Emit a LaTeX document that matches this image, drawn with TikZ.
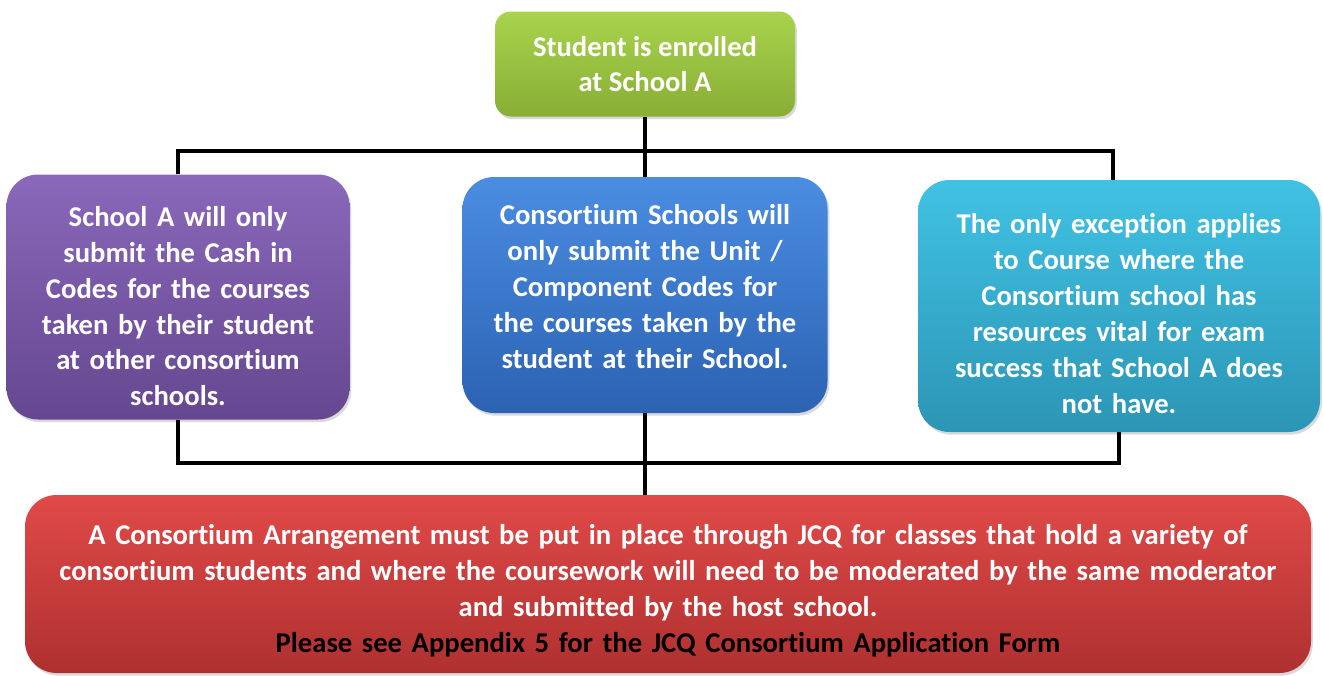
\documentclass[tikz,border=0pt]{standalone}
\usepackage{fontspec}
\setmainfont{Carlito}[Ligatures=NoCommon]
\usetikzlibrary{shadows}

\definecolor{greenTop}{HTML}{A9D34E}
\definecolor{greenBot}{HTML}{88AE34}
\definecolor{purpleTop}{HTML}{8A68BA}
\definecolor{purpleBot}{HTML}{654790}
\definecolor{blueTop}{HTML}{4A8DE2}
\definecolor{blueBot}{HTML}{2C62B2}
\definecolor{cyanTop}{HTML}{40C2E4}
\definecolor{cyanBot}{HTML}{2C95B5}
\definecolor{redTop}{HTML}{E04A48}
\definecolor{redBot}{HTML}{AF3030}

% struts to nudge the text block inside a box
\newcommand{\topstrut}[1]{\rule{0pt}{#1}}
\newcommand{\botstrut}[1]{\rule[-#1]{0pt}{0pt}}

\tikzset{
  box/.style={rounded corners=18pt, align=center, text=white, inner sep=0pt,
    font=\bfseries\fontsize{16.3}{20.4}\selectfont,
    drop shadow={opacity=0.3, shadow xshift=1pt, shadow yshift=-1.5pt}},
  link/.style={line width=2.3pt, black},
}

\begin{document}
\begin{tikzpicture}[x=0.02cm, y=-0.02cm]
  \useasboundingbox (0,0) rectangle (1323,676);

  \coordinate (topBus) at (645,151);
  \coordinate (botBus) at (645,463);

  \node[box, rounded corners=9pt, top color=greenTop, bottom color=greenBot,
        minimum width=300*0.02cm, minimum height=105*0.02cm] (enrolled) at (645,64)
    {Student is enrolled\\at School A};

  \node[box, top color=purpleTop, bottom color=purpleBot,
        minimum width=343*0.02cm, minimum height=245*0.02cm, text width=310*0.02cm] (cashIn) at (178,297)
    {\topstrut{22pt}School A will only\\submit the Cash in\\Codes for the courses\\taken by their student\\at other consortium\\schools.};

  \node[box, top color=blueTop, bottom color=blueBot,
        minimum width=365*0.02cm, minimum height=236*0.02cm, text width=340*0.02cm] (unitCodes) at (645,295)
    {Consortium Schools will\\only submit the Unit /\\Component Codes for\\the courses taken by the\\student at their School.\botstrut{9.7pt}};

  \node[box, top color=cyanTop, bottom color=cyanBot,
        minimum width=402*0.02cm, minimum height=252*0.02cm, text width=380*0.02cm] (exception) at (1119,306)
    {\topstrut{20pt}The only exception applies\\to Course where the\\Consortium school has\\resources vital for exam\\success that School A does\\not have.};

  \node[box, top color=redTop, bottom color=redBot,
        minimum width=1286*0.02cm, minimum height=178*0.02cm, text width=1264*0.02cm] (arrangement) at (668,584)
    {\topstrut{19pt}A Consortium Arrangement must be put in place through JCQ for classes that hold a variety of\\
     consortium students and where the coursework will need to be moderated by the same moderator\\
     and submitted by the host school.\\
     \textcolor{black}{Please see Appendix 5 for the JCQ Consortium Application Form}};

  % connectors
  \draw[link] (enrolled.south) -- (unitCodes.north);
  \draw[link] (cashIn.north) |- (topBus) -| ([xshift=-6*0.02cm]exception.north);
  \draw[link] (cashIn.south) |- (botBus) -| (exception.south);
  \draw[link] (unitCodes.south) -- (unitCodes.south |- arrangement.north);
\end{tikzpicture}
\end{document}
